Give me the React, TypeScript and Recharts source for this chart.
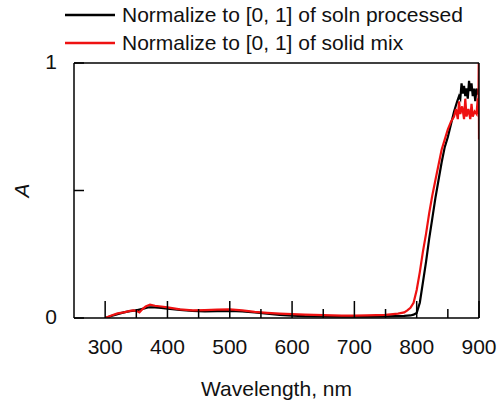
import { LineChart, Line, XAxis, YAxis, Legend } from 'recharts';

const wavelengthSoln = [
  300, 310, 320, 330, 340, 350, 360, 370, 380, 390, 400, 420, 440, 460, 480, 500, 520, 540, 560, 580,
  600, 620, 650, 680, 700, 720, 750, 780, 790, 795, 800, 805, 810, 815, 820, 825, 830, 835, 840, 845,
  850, 855, 860, 865, 868, 870, 872, 874, 876, 878, 880, 882, 884, 886, 888, 890, 892, 894, 896, 898, 900,
];
const absSoln = [
  0.0, 0.008, 0.015, 0.022, 0.027, 0.03, 0.036, 0.042, 0.042, 0.04, 0.037, 0.032, 0.028, 0.026, 0.027, 0.028, 0.026, 0.022, 0.017, 0.012,
  0.009, 0.007, 0.006, 0.005, 0.005, 0.005, 0.006, 0.008, 0.01, 0.013, 0.02, 0.06, 0.14, 0.22, 0.31, 0.39, 0.47, 0.54, 0.61, 0.67,
  0.71, 0.76, 0.81, 0.85, 0.87, 0.86, 0.92, 0.88, 0.91, 0.87, 0.9, 0.86, 0.93, 0.89, 0.92, 0.87, 0.9, 0.85, 0.9, 0.88, 0.88,
];

const wavelengthSolid = [
  300, 310, 320, 330, 340, 345, 350, 355, 360, 365, 372, 380, 390, 400, 420, 440, 460, 480, 500, 520,
  540, 560, 580, 600, 620, 650, 680, 700, 720, 750, 770, 780, 785, 790, 795, 800, 805, 810, 815, 820,
  825, 830, 835, 840, 845, 850, 855, 860, 863, 866, 868, 870, 873, 876, 878, 880, 883, 886, 888, 890,
  893, 896, 898, 899, 899.6, 900,
];
const absSolid = [
  0.0, 0.01, 0.018, 0.022, 0.028, 0.03, 0.028, 0.022, 0.035, 0.045, 0.052, 0.048, 0.045, 0.042, 0.034, 0.03, 0.031, 0.033, 0.034, 0.03,
  0.024, 0.02, 0.017, 0.015, 0.013, 0.011, 0.009, 0.009, 0.01, 0.012, 0.017, 0.022, 0.03, 0.04, 0.06, 0.11, 0.18, 0.26, 0.33, 0.41,
  0.48, 0.54, 0.6, 0.66, 0.7, 0.74, 0.77, 0.79, 0.82, 0.78, 0.85, 0.8, 0.83, 0.78, 0.86, 0.79, 0.82, 0.78, 0.84, 0.79,
  0.81, 0.8, 0.86, 0.8, 1.0, 0.7,
];

const xTicks = [300, 350, 400, 450, 500, 550, 600, 650, 700, 750, 800, 850, 900];
const yTicks = [0, 0.5, 1];
const seriesNames = ['Normalize to [0, 1] of soln processed', 'Normalize to [0, 1] of solid mix'];
const seriesColors = ['#000000', '#ee1111'];

const soln = wavelengthSoln.map((x, i) => ({ x, y: absSoln[i] }));
const solid = wavelengthSolid.map((x, i) => ({ x, y: absSolid[i] }));

const font = '"Liberation Sans", Arial, sans-serif';

function BottomTick({ x, y, payload }: any) {
  const major = payload.value % 100 === 0;
  return (
    <g>
      <line x1={x} y1={y} x2={x} y2={y - (major ? 17 : 9)} stroke="#000" strokeWidth={1.5} />
      {major && (
        <text x={x} y={y + 30} textAnchor="middle" dominantBaseline="middle" fontSize={21} fontFamily={font} fill="#111">
          {payload.value}
        </text>
      )}
    </g>
  );
}

function TopTick({ x, y, payload }: any) {
  const major = payload.value % 100 === 0;
  return <line x1={x} y1={y} x2={x} y2={y + (major ? 17 : 9)} stroke="#000" strokeWidth={1.5} />;
}

function LeftTick({ x, y, payload }: any) {
  const v = payload.value;
  return (
    <g>
      <line x1={x} y1={y} x2={x + 10} y2={y} stroke="#000" strokeWidth={1.5} />
      {v !== 0.5 && (
        <text x={x - 17} y={y} textAnchor="end" dominantBaseline="middle" fontSize={21} fontFamily={font} fill="#111">
          {v}
        </text>
      )}
    </g>
  );
}

function RightTick({ x, y }: any) {
  return <line x1={x} y1={y} x2={x - 10} y2={y} stroke="#000" strokeWidth={1.5} />;
}

// italic "A" beside the left axis
function YLabel({ viewBox }: any) {
  const cx = viewBox.x - 50;
  const cy = viewBox.y + viewBox.height / 2;
  return (
    <text
      x={cx}
      y={cy}
      transform={`rotate(-90, ${cx}, ${cy})`}
      textAnchor="middle"
      dominantBaseline="middle"
      fontSize={21}
      fontStyle="italic"
      fontFamily={font}
      fill="#111"
    >
      A
    </text>
  );
}

function LegendBox() {
  return (
    <svg width={504} height={56}>
      {seriesNames.map((name, i) => (
        <g key={name}>
          <line x1={65} x2={115} y1={15 + i * 28} y2={15 + i * 28} stroke={seriesColors[i]} strokeWidth={2.5} />
          <text x={122} y={16 + i * 28} dominantBaseline="middle" fontSize={21} fontFamily={font} fill="#111">
            {name}
          </text>
        </g>
      ))}
    </svg>
  );
}

export default function App() {
  return (
    <div style={{ position: 'fixed', left: 0, top: 0, width: 504, height: 405, background: '#fff' }}>
      <LineChart width={504} height={405} margin={{ top: 62, right: 24, bottom: 86, left: 73 }}>
        <XAxis
          xAxisId="b"
          dataKey="x"
          type="number"
          domain={[250, 900]}
          ticks={xTicks}
          interval={0}
          height={1}
          tickSize={0}
          tickMargin={0}
          tickLine={false}
          tick={<BottomTick />}
          axisLine={{ stroke: '#000', strokeWidth: 1.5 }}
          allowDataOverflow
          label={{ value: 'Wavelength, nm', position: 'bottom', offset: 62, fontSize: 21, fontFamily: font, fill: '#111' }}
        />
        <XAxis
          xAxisId="t"
          orientation="top"
          dataKey="x"
          type="number"
          domain={[250, 900]}
          ticks={xTicks}
          interval={0}
          height={1}
          tickSize={0}
          tickMargin={0}
          tickLine={false}
          tick={<TopTick />}
          axisLine={{ stroke: '#000', strokeWidth: 1.5 }}
        />
        <YAxis
          yAxisId="l"
          type="number"
          domain={[0, 1]}
          ticks={yTicks}
          interval={0}
          width={1}
          tickSize={0}
          tickMargin={0}
          tickLine={false}
          tick={<LeftTick />}
          axisLine={{ stroke: '#000', strokeWidth: 1.5 }}
          allowDataOverflow
          label={{ value: 'A', content: <YLabel /> }}
        />
        <YAxis
          yAxisId="r"
          orientation="right"
          type="number"
          domain={[0, 1]}
          ticks={yTicks}
          interval={0}
          width={1}
          tickSize={0}
          tickMargin={0}
          tickLine={false}
          tick={<RightTick />}
          axisLine={{ stroke: '#000', strokeWidth: 1.5 }}
        />
        <Legend
          layout="horizontal"
          verticalAlign="middle"
          wrapperStyle={{ top: 0, left: 0, width: 504, height: 56 }}
          content={() => <LegendBox />}
        />
        <Line
          xAxisId="b"
          yAxisId="l"
          data={soln}
          dataKey="y"
          name={seriesNames[0]}
          stroke={seriesColors[0]}
          strokeWidth={2.2}
          dot={false}
          type="linear"
          isAnimationActive={false}
        />
        <Line
          xAxisId="b"
          yAxisId="l"
          data={solid}
          dataKey="y"
          name={seriesNames[1]}
          stroke={seriesColors[1]}
          strokeWidth={2.2}
          dot={false}
          type="linear"
          isAnimationActive={false}
        />
      </LineChart>
    </div>
  );
}
